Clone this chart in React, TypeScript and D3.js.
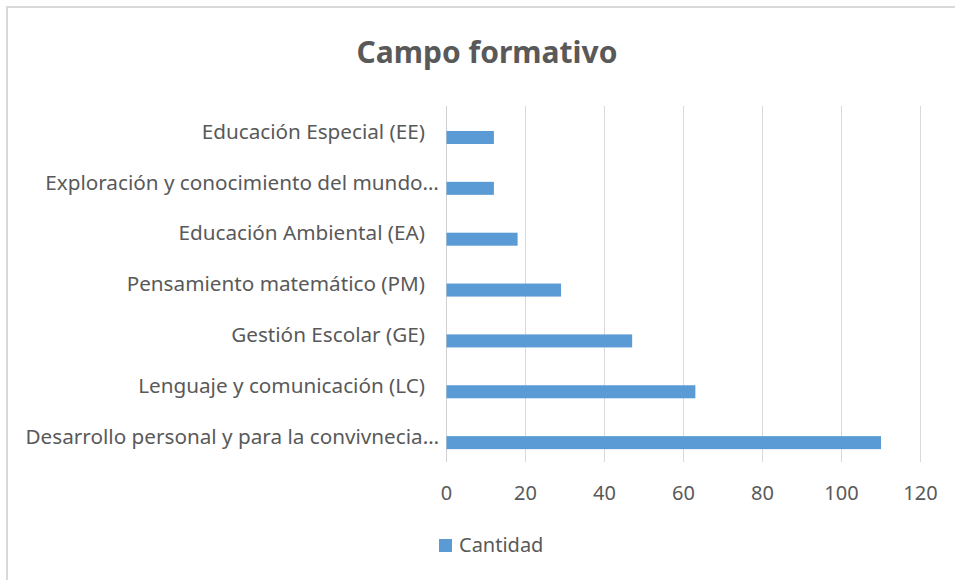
import React, { useEffect, useRef } from 'react';
import * as d3 from 'd3';

// categories listed top to bottom, as they appear in the chart
const categories = [
  'Educación Especial (EE)',
  'Exploración y conocimiento del mundo…',
  'Educación Ambiental (EA)',
  'Pensamiento matemático (PM)',
  'Gestión Escolar (GE)',
  'Lenguaje y comunicación (LC)',
  'Desarrollo personal y para la convivnecia…',
];
const cantidad = [12, 12, 18, 29, 47, 63, 110];
const xTicks = [0, 20, 40, 60, 80, 100, 120];
const seriesName = 'Cantidad';
const chartTitle = 'Campo formativo';

export default function App() {
  const ref = useRef<SVGSVGElement>(null);

  useEffect(() => {
    const width = 955, height = 580;
    const plot = { left: 446.5, right: 920.5, top: 106, bottom: 462 };
    const font = '"Noto Sans", "Open Sans", sans-serif';
    const textColor = '#595959';

    const svg = d3.select(ref.current)
      .attr('width', width)
      .attr('height', height);
    svg.selectAll('*').remove();

    svg.append('rect')
      .attr('width', width).attr('height', height)
      .attr('fill', '#ffffff');

    // chart frame
    svg.append('rect')
      .attr('x', 7).attr('y', 7)
      .attr('width', width + 20).attr('height', height + 20)
      .attr('fill', 'none')
      .attr('stroke', '#d9d9d9')
      .attr('stroke-width', 2);

    svg.append('text')
      .attr('x', 487).attr('y', 63)
      .attr('text-anchor', 'middle')
      .attr('font-family', font)
      .attr('font-weight', 'bold')
      .attr('font-size', 30)
      .attr('fill', textColor)
      .text(chartTitle);

    let scaleX = d3.scaleLinear()
      .domain([0, 120])
      .range([plot.left, plot.right]);

    // category slots (labels) and the bars inside them
    let scaleCat = d3.scaleBand()
      .domain(categories)
      .range([plot.top, plot.bottom]);

    let scaleBar = d3.scaleBand()
      .domain(categories)
      .range([plot.top, plot.bottom])
      .paddingInner(0.744)
      .paddingOuter(0.372)
      .align(0.66);

    // gridlines
    svg.append('g')
      .selectAll('line')
      .data(xTicks.filter(t => t > 0))
      .enter()
        .append('line')
        .attr('x1', d => scaleX(d)).attr('x2', d => scaleX(d))
        .attr('y1', plot.top).attr('y2', plot.bottom)
        .attr('stroke', '#d9d9d9')
        .attr('stroke-width', 1);

    // category axis line
    svg.append('line')
      .attr('x1', scaleX(0)).attr('x2', scaleX(0))
      .attr('y1', plot.top).attr('y2', plot.bottom)
      .attr('stroke', '#d0d0d0')
      .attr('stroke-width', 1);

    svg.append('g')
      .selectAll('rect')
      .data(cantidad)
      .enter()
        .append('rect')
        .attr('fill', '#5b9bd5')
        .attr('x', scaleX(0))
        .attr('y', (d, i) => scaleBar(categories[i]) as number)
        .attr('width', d => scaleX(d) - scaleX(0))
        .attr('height', scaleBar.bandwidth());

    // category labels
    svg.append('g')
      .selectAll('text')
      .data(categories)
      .enter()
        .append('text')
        .attr('x', d => d.endsWith('…') ? 439 : 425)
        .attr('y', d => (scaleCat(d) as number) + scaleCat.bandwidth() / 2)
        .attr('dy', '0.35em')
        .attr('text-anchor', 'end')
        .attr('font-family', font)
        .attr('font-size', 20.7)
        .attr('fill', textColor)
        .text(d => d);

    // value axis labels
    svg.append('g')
      .selectAll('text')
      .data(xTicks)
      .enter()
        .append('text')
        .attr('x', d => scaleX(d))
        .attr('y', 500)
        .attr('text-anchor', 'middle')
        .attr('font-family', font)
        .attr('font-size', 20)
        .attr('fill', textColor)
        .text(d => d);

    // legend
    let legend = svg.append('g');
    legend.append('rect')
      .attr('x', 439).attr('y', 539)
      .attr('width', 13).attr('height', 13)
      .attr('fill', '#5b9bd5');
    legend.append('text')
      .attr('x', 459).attr('y', 552)
      .attr('font-family', font)
      .attr('font-size', 20)
      .attr('fill', textColor)
      .text(seriesName);
  }, []);

  return (
    <svg ref={ref} style={{ position: 'absolute', left: 0, top: 0, display: 'block' }} />
  );
}
